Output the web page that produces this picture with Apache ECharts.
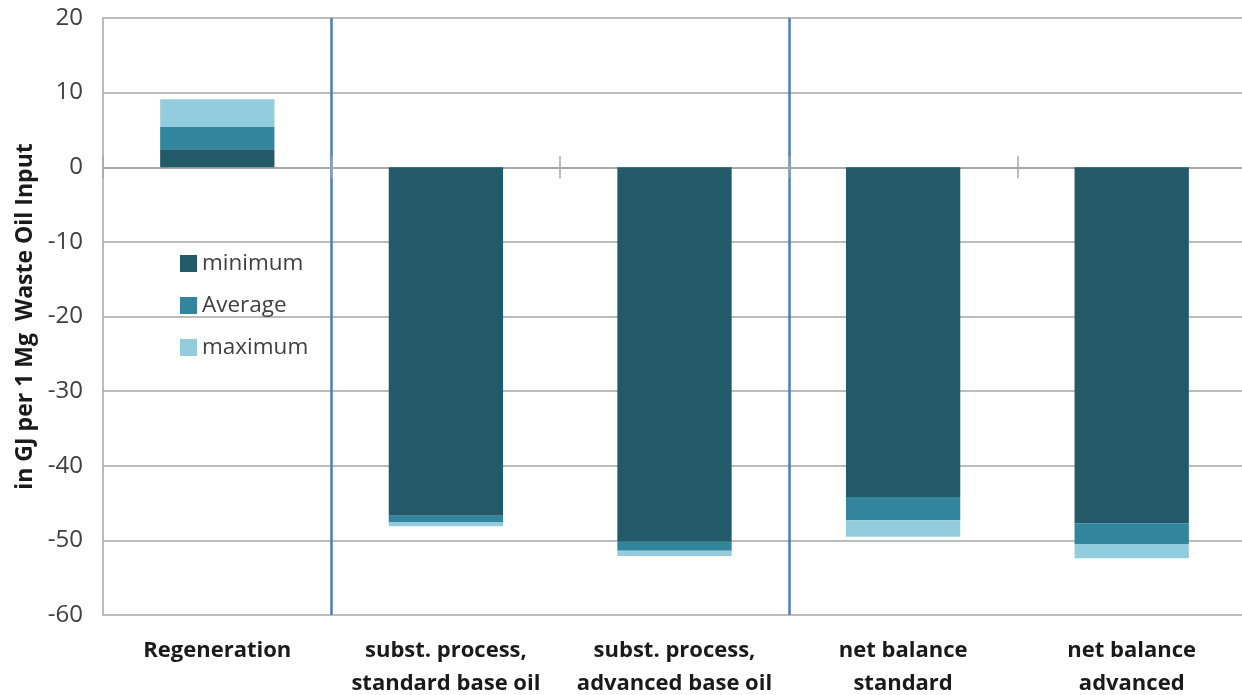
<!DOCTYPE html>
<html>
<head>
<meta charset="utf-8">
<script src="https://cdn.jsdelivr.net/npm/echarts@6/dist/echarts.min.js"></script>
<style>html,body{margin:0;padding:0;background:#fff}#c{width:1242px;height:695px}</style>
</head>
<body>
<div id="c"></div>
<script>
const categories = ['Regeneration', 'subst. process,\nstandard base oil', 'subst. process,\nadvanced base oil', 'net balance\nstandard', 'net balance\nadvanced'];
const seriesNames = ['minimum', 'Average', 'maximum'];
// stacked segment values
const minimumVals = [2.4, -46.7, -50.2, -44.2, -47.7];
const averageVals = [3.0, -0.9, -1.2, -3.1, -2.8];
const maximumVals = [3.7, -0.5, -0.7, -2.2, -1.9];
const yTicks = { min: -60, max: 20, interval: 10 };
const separatorsAfter = [1, 3];
const colors = ['#225A69', '#31859C', '#93CDDD'];
const FONT = '"Open Sans", Lato, "Liberation Sans", sans-serif';

const chart = echarts.init(document.getElementById('c'));
const gridColor = '#A6A6A6';
const gridBox = { left: 103, right: -4, top: 18, bottom: 80, outerBoundsMode: 'none', containLabel: false };
const mk = (name, data, i) => ({
  name, type: 'bar', stack: 'total', data, barWidth: '50%',
  itemStyle: { color: colors[i] }, xAxisIndex: 0, yAxisIndex: 0
});
chart.setOption({
  animation: false,
  textStyle: { fontFamily: FONT },
  grid: [gridBox, Object.assign({}, gridBox)],
  legend: {
    orient: 'vertical', left: 175, top: 247,
    itemWidth: 17, itemHeight: 17, itemGap: 19,
    icon: 'rect',
    textStyle: { fontSize: 22.5, color: '#404040', fontFamily: FONT },
    data: seriesNames
  },
  xAxis: [
    {
      type: 'category', data: categories, position: 'bottom', gridIndex: 0,
      axisLine: { show: false, onZero: false }, axisTick: { show: false },
      axisLabel: { fontSize: 22, fontWeight: 'bold', color: '#1a1a1a', margin: 19, lineHeight: 33, interval: 0, fontFamily: FONT },
      splitLine: { show: true, interval: (i) => separatorsAfter.includes(i), lineStyle: { color: '#4A7EBB', width: 2.5 } }
    },
    {
      type: 'category', data: categories, position: 'top', gridIndex: 0,
      axisLine: { show: true, onZero: true, lineStyle: { color: gridColor, width: 1.5 } },
      axisTick: { show: true, length: 11, lineStyle: { color: gridColor, width: 1.5 } },
      axisLabel: { show: false }, splitLine: { show: false }
    },
    {
      type: 'category', data: categories, position: 'bottom', gridIndex: 1,
      axisLine: { show: true, onZero: true, lineStyle: { color: gridColor, width: 1.5 } },
      axisTick: { show: true, length: 11, lineStyle: { color: gridColor, width: 1.5 } },
      axisLabel: { show: false }, splitLine: { show: false }
    }
  ],
  yAxis: [
    {
      type: 'value', min: yTicks.min, max: yTicks.max, interval: yTicks.interval, gridIndex: 0,
      name: 'in GJ per 1 Mg  Waste Oil Input', nameLocation: 'middle', nameGap: 66,
      nameTextStyle: { fontSize: 23, fontWeight: 'bold', color: '#1a1a1a', fontFamily: FONT },
      axisLine: { show: true, onZero: false, lineStyle: { color: gridColor, width: 1.5 } },
      axisTick: { show: false },
      axisLabel: { fontSize: 24, color: '#404040', margin: 20, fontFamily: FONT },
      splitLine: { lineStyle: { color: gridColor, width: 1.5 } }
    },
    {
      type: 'value', min: yTicks.min, max: yTicks.max, interval: yTicks.interval, gridIndex: 1,
      show: false, splitLine: { show: false }
    }
  ],
  series: [
    mk(seriesNames[0], minimumVals, 0),
    mk(seriesNames[1], averageVals, 1),
    mk(seriesNames[2], maximumVals, 2)
  ]
});
</script>
</body>
</html>
